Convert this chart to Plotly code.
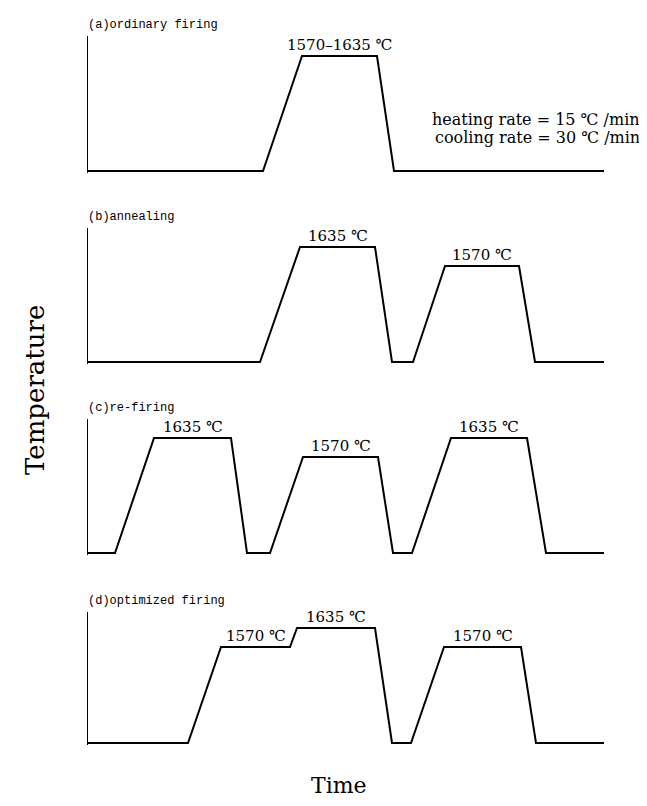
import plotly.graph_objects as go

# ---- data (schematic firing schedules; time and level in arbitrary units) ----
panel_titles = ["(a)ordinary firing", "(b)annealing", "(c)re-firing", "(d)optimized firing"]

time_a = [0, 175, 214, 289, 306, 516]
level_a = [0, 0, 115, 115, 0, 0]
labels_a = ["1570–1635 ℃"]

time_b = [0, 172, 212, 287, 304, 325, 357, 431, 447, 516]
level_b = [0, 0, 115, 115, 0, 0, 96, 96, 0, 0]
labels_b = ["1635 ℃", "1570 ℃"]

time_c = [0, 27, 66, 143, 159, 182, 215, 290, 305, 324, 363, 439, 458, 516]
level_c = [0, 0, 115, 115, 0, 0, 96, 96, 0, 0, 115, 115, 0, 0]
labels_c = ["1635 ℃", "1570 ℃", "1635 ℃"]

time_d = [0, 100, 133, 202, 209, 287, 304, 323, 356, 433, 448, 516]
level_d = [0, 0, 96, 96, 115, 115, 0, 0, 96, 96, 0, 0]
labels_d = ["1570 ℃", "1635 ℃", "1570 ℃"]

rate_text = ["heating rate = 15 ℃ /min", "cooling rate = 30 ℃ /min"]
axis_top = [135, 134, 134, 131]

times = [time_a, time_b, time_c, time_d]
levels = [level_a, level_b, level_c, level_d]
labels = [labels_a, labels_b, labels_c, labels_d]

# ---- layout geometry (page pixels of a 647x806 window; page body has an 8px margin) ----
OFF = 8
W, H = 647 - OFF, 806 - 2 * OFF   # figure fits the window without overflow
x_left, x_right = 88 - OFF, 604 - OFF
baselines = [171 - OFF, 362 - OFF, 553 - OFF, 743 - OFF]
pad = 2  # data units below baseline so the baseline stroke is not clipped

SERIF = "DejaVu Serif"
MONO = "Liberation Mono"
fig = go.Figure()

for i in range(4):
    n = "" if i == 0 else str(i + 1)
    xa, ya = "x" + n, "y" + n
    fig.add_trace(go.Scatter(
        x=times[i], y=levels[i], mode="lines",
        line=dict(color="black", width=2), xaxis=xa, yaxis=ya,
        hoverinfo="skip", showlegend=False))

    bottom_px = baselines[i] + pad
    top_px = baselines[i] - axis_top[i]
    fig.layout["xaxis" + n] = dict(
        domain=[x_left / W, x_right / W], range=[0, 516],
        showline=False, showgrid=False, zeroline=False, showticklabels=False,
        ticks="", anchor=ya, fixedrange=True)
    fig.layout["yaxis" + n] = dict(
        domain=[1 - bottom_px / H, 1 - top_px / H], range=[-pad, axis_top[i]],
        showline=True, linecolor="black", linewidth=1.3, mirror=False,
        showgrid=False, zeroline=False, showticklabels=False, ticks="",
        anchor=xa, fixedrange=True)

    # plateau labels at the middle of each flat segment
    t, lv = times[i], levels[i]
    k = 0
    for j in range(len(t) - 1):
        if lv[j] > 0 and lv[j] == lv[j + 1]:
            fig.add_annotation(
                x=(t[j] + t[j + 1]) / 2, y=lv[j], xref=xa, yref=ya,
                text=labels[i][k], showarrow=False, xanchor="center",
                yanchor="bottom", yshift=0,
                font=dict(family=SERIF, size=15, color="black"))
            k += 1

    # panel title
    fig.add_annotation(
        x=(x_left - 2) / W, y=1 - (top_px - 11) / H, xref="paper", yref="paper",
        text=panel_titles[i], showarrow=False, xanchor="left", yanchor="middle",
        font=dict(family=MONO, size=12, color="black"))

# heating / cooling rate notes
for txt, ypx in zip(rate_text, [120, 137]):
    fig.add_annotation(
        x=(642 - OFF) / W, y=1 - (ypx - OFF) / H, xref="paper", yref="paper",
        text=txt, showarrow=False, xanchor="right", yanchor="middle",
        font=dict(family=SERIF, size=16, color="black"))

# axis titles
fig.add_annotation(x=(35 - OFF) / W, y=1 - (390 - OFF) / H, xref="paper", yref="paper",
                   text="Temperature", textangle=-90, showarrow=False,
                   xanchor="center", yanchor="middle",
                   font=dict(family=SERIF, size=26, color="black"))
fig.add_annotation(x=(339 - OFF) / W, y=1 - (785 - OFF) / H, xref="paper", yref="paper",
                   text="Time", showarrow=False, xanchor="center", yanchor="middle",
                   font=dict(family=SERIF, size=22, color="black"))

fig.update_layout(width=W, height=H, margin=dict(l=0, r=0, t=0, b=0),
                  paper_bgcolor="white", plot_bgcolor="white")

fig.write_html("out.html")
